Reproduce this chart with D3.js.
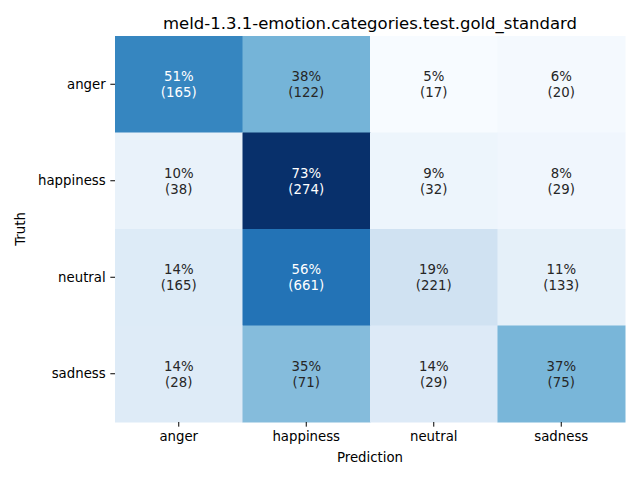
<!DOCTYPE html>
<html><head><meta charset="utf-8">
<script src="https://cdn.jsdelivr.net/npm/d3@7"></script>
<style>body{margin:0;background:#fff}svg{font-family:"DejaVu Sans",sans-serif}</style>
</head><body><svg id="c" width="640" height="480"></svg>
<script>
const title = "meld-1.3.1-emotion.categories.test.gold_standard";
const truthLabels = ["anger","happiness","neutral","sadness"];
const predLabels = ["anger","happiness","neutral","sadness"];
const counts = [
  [165,122,17,20],
  [38,274,32,29],
  [165,661,221,133],
  [28,71,29,75]
];
const bluesStops = ["#f7fbff","#deebf7","#c6dbef","#9ecae1","#6baed6","#4292c6","#2171b5","#08519c","#08306b"];

const svg = d3.select("#c");
const L=115,R=625,T=36,B=422;
const x = d3.scaleBand().domain(predLabels).range([L,R]);
const y = d3.scaleBand().domain(truthLabels).range([T,B]);

const cells=[];
counts.forEach((row,i)=>{const tot=d3.sum(row);row.forEach((c,j)=>cells.push({t:truthLabels[i],p:predLabels[j],c,f:c/tot}));});
const fmin=d3.min(cells,d=>d.f), fmax=d3.max(cells,d=>d.f);
const col = d3.scaleLinear().domain(bluesStops.map((_,k)=>fmin+(fmax-fmin)*k/(bluesStops.length-1))).range(bluesStops).interpolate(d3.interpolateRgb).clamp(true);
function lum(c){const r=d3.rgb(c);const f=v=>{v/=255;return v<=0.03928?v/12.92:Math.pow((v+0.055)/1.055,2.4);};return 0.2126*f(r.r)+0.7152*f(r.g)+0.0722*f(r.b);}

svg.append("g").selectAll("rect").data(cells).join("rect")
  .attr("x",d=>x(d.p)).attr("y",d=>y(d.t)).attr("width",x.bandwidth()+0.5).attr("height",y.bandwidth()+0.5)
  .attr("fill",d=>col(d.f));
const tg=svg.append("g").selectAll("text").data(cells).join("text")
  .attr("text-anchor","middle").attr("font-size",13.3)
  .attr("fill",d=>lum(col(d.f))>0.408?"#262626":"#ffffff");
tg.append("tspan").attr("x",d=>x(d.p)+x.bandwidth()/2).attr("y",d=>y(d.t)+y.bandwidth()/2-3).text(d=>Math.round(d.f*100)+"%");
tg.append("tspan").attr("x",d=>x(d.p)+x.bandwidth()/2).attr("y",d=>y(d.t)+y.bandwidth()/2+13).text(d=>"("+d.c+")");

const xa=svg.append("g").attr("transform",`translate(0,${B})`).call(d3.axisBottom(x).tickSize(4.67).tickPadding(4.67));
const ya=svg.append("g").attr("transform",`translate(${L},0)`).call(d3.axisLeft(y).tickSize(4.67).tickPadding(4.67));
[xa,ya].forEach(a=>{a.select(".domain").remove();a.selectAll("text").attr("font-size",13.3).attr("fill","#000").attr("font-family","DejaVu Sans");a.selectAll("line").attr("stroke","#000").attr("stroke-width",1);});

svg.append("text").attr("x",(L+R)/2).attr("y",29).attr("text-anchor","middle").attr("font-size",16.5).text(title);
svg.append("text").attr("x",(L+R)/2).attr("y",462).attr("text-anchor","middle").attr("font-size",13.3).text("Prediction");
svg.append("text").attr("transform",`translate(25,${(T+B)/2}) rotate(-90)`).attr("text-anchor","middle").attr("font-size",13.3).text("Truth");
</script></body></html>
